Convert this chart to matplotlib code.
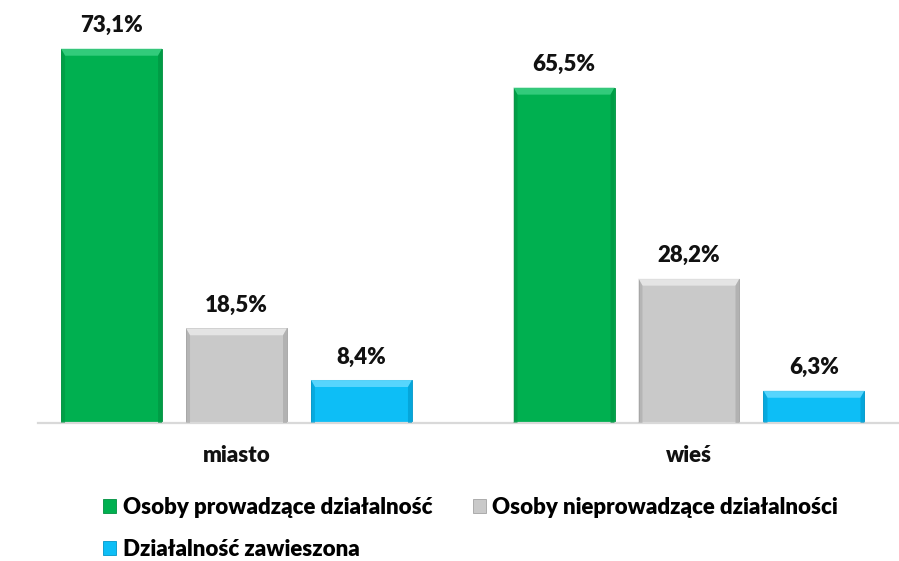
import matplotlib
matplotlib.use("Agg")
import matplotlib.pyplot as plt
from matplotlib.patches import Polygon, Patch
import numpy as np

plt.rcParams['font.family'] = ['Lato', 'DejaVu Sans']
plt.rcParams['font.weight'] = 'heavy'

# data
categories = ["miasto", "wieś"]
series_names = ["Osoby prowadzące działalność",
                "Osoby nieprowadzące działalności",
                "Działalność zawieszona"]
prowadzace = [73.1, 65.5]
nieprowadzace = [18.5, 28.2]
zawieszona = [8.4, 6.3]

# colours: main, top bevel, side bevel
colors = ["#00B050", "#C9C9C9", "#0DBEF6"]
tops = ["#3FD286", "#ECECEC", "#6ADCFF"]
sides = ["#00903F", "#A3A3A3", "#0096C8"]

fig = plt.figure(figsize=(8.99, 5.61), dpi=100)
W, H = 899, 561
ax = fig.add_axes([38 / W, 138 / H, 861 / W, 413 / H])

x = np.arange(len(categories))
step = 0.2762
width = 0.2232
ax.set_xlim(-0.4387, 1.4641)
ax.set_ylim(0, 80.66)

# bevel size in data units (px -> data)
px_x = (1.4641 + 0.4387) / 861
px_y = 80.66 / 413
bev_t = 7 * px_y
bev_s = 4 * px_x

all_series = [prowadzace, nieprowadzace, zawieszona]
for i, vals in enumerate(all_series):
    bars = ax.bar(x + (i - 1) * step, vals, width, color=colors[i],
                  edgecolor=sides[i], linewidth=0.6, zorder=2)
    for b, v in zip(bars, vals):
        x0, w, h = b.get_x(), b.get_width(), b.get_height()
        x1 = x0 + w
        # top bevel
        ax.add_patch(Polygon([(x0, h), (x1, h), (x1 - bev_s, h - bev_t),
                              (x0 + bev_s, h - bev_t)],
                             closed=True, facecolor=tops[i], edgecolor='none',
                             alpha=0.8, zorder=3))
        # side bevels
        ax.add_patch(Polygon([(x0, 0), (x0, h), (x0 + bev_s, h - bev_t), (x0 + bev_s, 0)],
                             closed=True, facecolor=sides[i], edgecolor='none',
                             alpha=0.5, zorder=3))
        ax.add_patch(Polygon([(x1, 0), (x1, h), (x1 - bev_s, h - bev_t), (x1 - bev_s, 0)],
                             closed=True, facecolor=sides[i], edgecolor='none',
                             alpha=0.6, zorder=3))
        ax.annotate(f"{v:.1f}%".replace(".", ","), (b.get_x() + w / 2, h),
                    xytext=(0, 9), textcoords='offset points',
                    ha='center', va='bottom', fontsize=16, fontweight='heavy',
                    color='#111111')

for s in ['top', 'right', 'left']:
    ax.spines[s].set_visible(False)
ax.spines['bottom'].set_color('#D9D9D9')
ax.spines['bottom'].set_linewidth(1.6)
ax.set_yticks([])
ax.set_xticks(x)
ax.set_xticklabels(categories, fontsize=16, fontweight='heavy', color='#111111')
ax.tick_params(axis='x', length=0, pad=15.5)

handles = [Patch(facecolor=colors[i], edgecolor=sides[i], linewidth=0.6)
           for i in range(3)]
# row-major order: item1, item2 on first row, item3 on second
order = [0, 2, 1]
fig.legend([handles[k] for k in order], [series_names[k] for k in order],
           ncol=2, loc='upper left', bbox_to_anchor=(103 / W, 1 - 497 / H),
           frameon=False, prop={'size': 16, 'weight': 'heavy'},
           handlelength=0.6, handleheight=0.6,
           handletextpad=0.3, columnspacing=1.8, labelspacing=0.95,
           borderaxespad=0, borderpad=0)

fig.savefig("out.png", dpi=100)
